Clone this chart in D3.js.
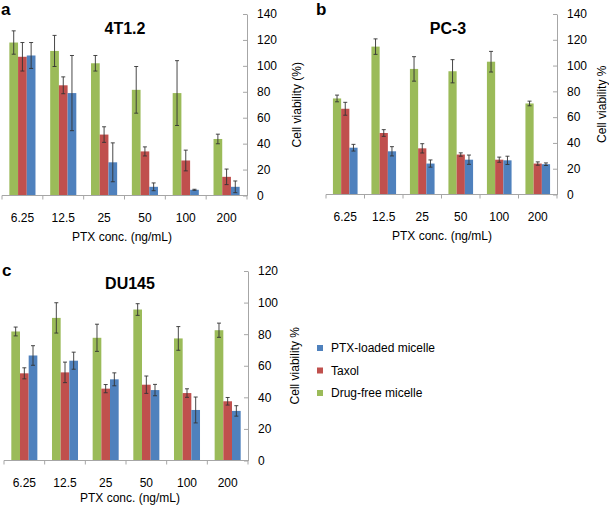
<!DOCTYPE html>
<html>
<head>
<meta charset="utf-8">
<script src="https://cdn.jsdelivr.net/npm/d3@7"></script>
<style>
  body { margin: 0; background: #fff; }
  svg { font-family: "Liberation Sans", Arial, sans-serif; }
</style>
</head>
<body>
<svg id="chart" width="609" height="506"></svg>
<script>
// categories and series
const concs = ["6.25", "12.5", "25", "50", "100", "200"];
const seriesKeys = ["green", "red", "blue"];
const seriesNames = { blue: "PTX-loaded micelle", red: "Taxol", green: "Drug-free micelle" };
const colors = { green: "#9BBB59", red: "#C0504D", blue: "#4F81BD" };

// panel a: 4T1.2
const aGreen = [118, 111.5, 102, 81.5, 79, 43.6];
const aGreenErr = [9, 12, 6, 18, 25, 3.7];
const aRed = [107, 85, 47, 34, 27, 14.4];
const aRedErr = [11, 6.5, 6, 3.5, 8, 6];
const aBlue = [108, 79, 25.6, 6.7, 4.4, 6.7];
const aBlueErr = [10, 29, 15, 3, 0.4, 4.5];

// panel b: PC-3
const bGreen = [74.5, 114.7, 97.4, 95.6, 103, 70.6];
const bGreenErr = [2.6, 6, 9.5, 9, 8, 1.8];
const bRed = [66.5, 47.7, 35.8, 31, 27, 24];
const bRedErr = [5, 2.6, 3.6, 1.3, 2, 1.3];
const bBlue = [36.3, 33.5, 24, 27, 26.5, 23.5];
const bBlueErr = [2.6, 3.6, 2.8, 3.6, 3.2, 1];

// panel c: DU145
const cGreen = [81.7, 90.3, 77.7, 95.6, 77.3, 82.5];
const cGreenErr = [2.8, 9.6, 8.6, 3.7, 7.5, 4.5];
const cRed = [55.2, 55.8, 45.5, 48, 42.7, 37.5];
const cRedErr = [3.5, 6.5, 2.6, 5.5, 2.7, 2.4];
const cBlue = [66.5, 63.2, 51.4, 44.6, 32, 31.4];
const cBlueErr = [6.2, 5.4, 4.1, 3.6, 8.2, 3.3];

const yTicksA = [0, 20, 40, 60, 80, 100, 120, 140];
const yTicksC = [0, 20, 40, 60, 80, 100, 120];

const svg = d3.select("#chart");

function toRows(g, ge, r, re, b, be) {
    return concs.map((c, i) => ({
        conc: c,
        green: g[i], greenErr: ge[i],
        red: r[i], redErr: re[i],
        blue: b[i], blueErr: be[i]
    }));
}

// 绘制一个面板
function drawPanel(p) {
    const g = svg.append("g");

    const x = d3.scaleBand().domain(concs).range([p.x0, p.x1]).padding(0);
    const xSub = d3.scaleBand().domain(seriesKeys)
        .range([x.bandwidth() * 0.18, x.bandwidth() * 0.82]).padding(0);
    const y = d3.scaleLinear().domain([0, p.ymax]).range([p.y0, p.y1]);

    // bars
    const groups = g.append("g").selectAll("g")
        .data(p.rows).enter().append("g")
        .attr("transform", d => `translate(${x(d.conc)},0)`);

    const cells = groups.selectAll("g")
        .data(d => seriesKeys.map(k => ({ key: k, value: d[k], err: d[k + "Err"] })))
        .enter().append("g");

    cells.append("rect")
        .attr("x", d => xSub(d.key))
        .attr("y", d => y(d.value))
        .attr("width", xSub.bandwidth())
        .attr("height", d => y(0) - y(d.value))
        .attr("fill", d => colors[d.key]);

    // error bars
    const cx = d => xSub(d.key) + xSub.bandwidth() / 2;
    cells.append("line")
        .attr("x1", cx).attr("x2", cx)
        .attr("y1", d => y(d.value + d.err))
        .attr("y2", d => y(d.value - d.err))
        .attr("stroke", "#333").attr("stroke-width", 0.9);
    cells.append("line")
        .attr("x1", d => cx(d) - 2).attr("x2", d => cx(d) + 2)
        .attr("y1", d => y(d.value + d.err)).attr("y2", d => y(d.value + d.err))
        .attr("stroke", "#333").attr("stroke-width", 0.9);
    cells.append("line")
        .attr("x1", d => cx(d) - 2).attr("x2", d => cx(d) + 2)
        .attr("y1", d => y(d.value - d.err)).attr("y2", d => y(d.value - d.err))
        .attr("stroke", "#333").attr("stroke-width", 0.9);

    // x axis: boundary ticks and centred labels
    const xAxis = g.append("g").attr("transform", `translate(0,${p.y0})`);
    xAxis.append("line")
        .attr("x1", p.x0).attr("x2", p.x1)
        .attr("stroke", "#a6a6a6");
    xAxis.selectAll("line.tk")
        .data(concs.concat(["end"])).enter().append("line")
        .attr("class", "tk")
        .attr("x1", d => d === "end" ? p.x1 : x(d))
        .attr("x2", d => d === "end" ? p.x1 : x(d))
        .attr("y1", 0).attr("y2", 4)
        .attr("stroke", "#a6a6a6");
    xAxis.selectAll("text")
        .data(concs).enter().append("text")
        .attr("x", d => x(d) + x.bandwidth() / 2)
        .attr("y", 26)
        .attr("text-anchor", "middle")
        .attr("font-size", 12)
        .text(d => d);

    // y axis on the right
    const yAxis = g.append("g")
        .attr("transform", `translate(${p.x1},0)`)
        .call(d3.axisRight(y).tickValues(p.yTicks).tickSizeInner(-4).tickSizeOuter(0).tickPadding(10));
    yAxis.select(".domain").attr("stroke", "#a6a6a6");
    yAxis.selectAll(".tick line").attr("stroke", "#a6a6a6").attr("x2", -4);
    yAxis.selectAll(".tick text").attr("font-size", 12).attr("fill", "#000")
        .attr("font-family", "Liberation Sans, Arial, sans-serif");

    // titles
    g.append("text")
        .attr("x", p.titleX).attr("y", p.titleY)
        .attr("text-anchor", "middle")
        .attr("font-size", 16).attr("font-weight", "bold")
        .text(p.title);
    g.append("text")
        .attr("x", p.letterX).attr("y", p.letterY)
        .attr("font-size", 17).attr("font-weight", "bold")
        .text(p.letter);
    g.append("text")
        .attr("x", p.xTitleX).attr("y", p.y0 + p.xTitleDy)
        .attr("text-anchor", "middle")
        .attr("font-size", 12)
        .text("PTX conc. (ng/mL)");
    g.append("text")
        .attr("transform", `translate(${p.yTitleX},${(p.y0 + p.y1) / 2}) rotate(-90)`)
        .attr("text-anchor", "middle")
        .attr("font-size", 12)
        .text(p.yTitle);
}

drawPanel({
    rows: toRows(aGreen, aGreenErr, aRed, aRedErr, aBlue, aBlueErr),
    x0: 2, x1: 247, y0: 195.5, y1: 14, ymax: 140, yTicks: yTicksA,
    title: "4T1.2", titleX: 125, titleY: 34,
    letter: "a", letterX: 1, letterY: 15,
    xTitleX: 122, xTitleDy: 45, yTitle: "Cell viability (%)", yTitleX: 301
});

drawPanel({
    rows: toRows(bGreen, bGreenErr, bRed, bRedErr, bBlue, bBlueErr),
    x0: 326, x1: 557, y0: 194.5, y1: 14, ymax: 140, yTicks: yTicksA,
    title: "PC-3", titleX: 448, titleY: 34,
    letter: "b", letterX: 316, letterY: 15,
    xTitleX: 442, xTitleDy: 45, yTitle: "Cell viability %", yTitleX: 606
});

drawPanel({
    rows: toRows(cGreen, cGreenErr, cRed, cRedErr, cBlue, cBlueErr),
    x0: 4, x1: 248, y0: 460.5, y1: 271, ymax: 120, yTicks: yTicksC,
    title: "DU145", titleX: 130, titleY: 289,
    letter: "c", letterX: 2, letterY: 276,
    xTitleX: 130, xTitleDy: 41, yTitle: "Cell viability %", yTitleX: 299
});

// 图例
const legendKeys = ["blue", "red", "green"];
const legend = svg.append("g")
    .attr("font-size", 12)
    .selectAll("g")
    .data(legendKeys)
    .enter().append("g")
    .attr("transform", (d, i) => `translate(317,${348 + i * 22.5})`);

legend.append("rect")
    .attr("x", 0).attr("y", -3)
    .attr("width", 6).attr("height", 6)
    .attr("fill", d => colors[d]);

legend.append("text")
    .attr("x", 14).attr("y", 0)
    .attr("dy", "0.35em")
    .text(d => seriesNames[d]);
</script>
</body>
</html>
